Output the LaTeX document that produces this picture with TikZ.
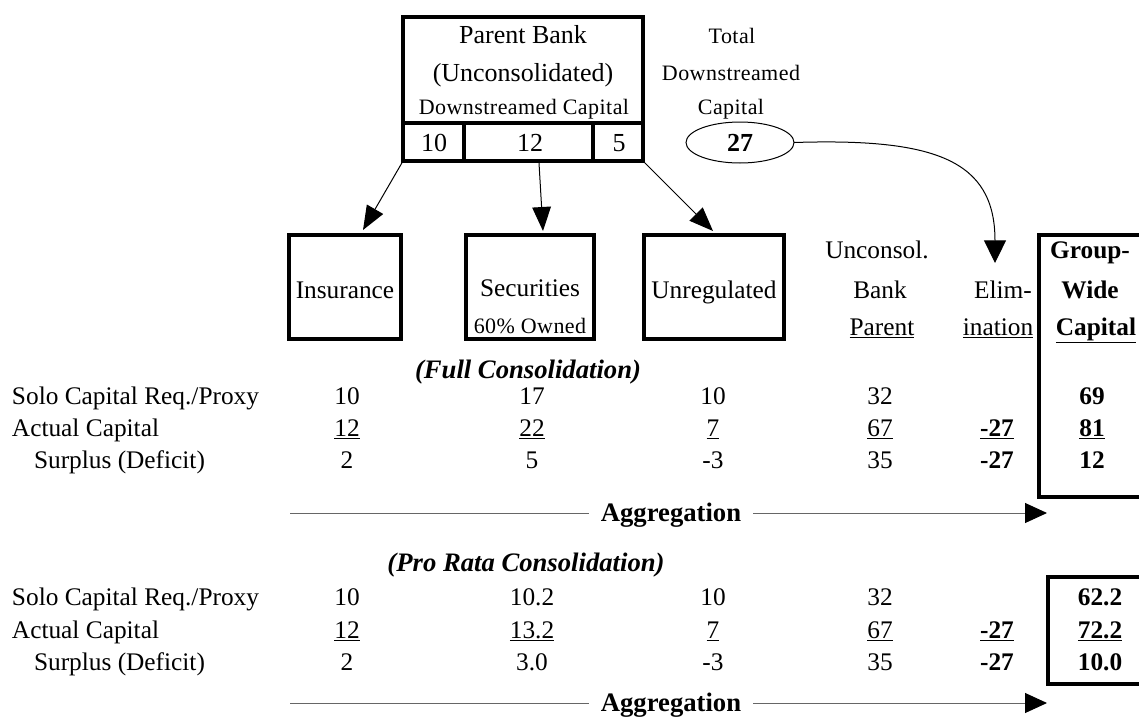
\documentclass[tikz,border=0pt]{standalone}
\usepackage{fontspec}
\setmainfont{Liberation Serif}
\usetikzlibrary{arrows.meta,shapes.geometric}
\newcommand\fsN{\fontsize{19}{23}\selectfont}
\newcommand\fsP{\fontsize{19.5}{23}\selectfont}
\newcommand\fsS{\fontsize{16.5}{19}\selectfont\addfontfeature{LetterSpace=2}}
\newcommand\fsB{\fontsize{20}{24}\selectfont\bfseries}
\newcommand\fsBI{\fontsize{20}{24}\selectfont\bfseries\itshape}
\newcommand\myul[1]{\underline{#1}}
\begin{document}
\begin{tikzpicture}[x=0.75pt,y=-0.75pt,
  every node/.style={inner sep=0pt,outer sep=0pt,font=\fsN},
  thickbox/.style={draw,line width=3pt,rectangle},
  thickline/.style={line width=3pt},
  txt/.style={anchor=base},
  ptxt/.style={anchor=base,font=\fsP},
  stxt/.style={anchor=base,font=\fsS},
  ltxt/.style={anchor=base west},
  bt/.style={anchor=base,font=\fsN\bfseries},
  dn/.style={-{Triangle[length=18pt,width=14pt]},line width=0.75pt},
  aggline/.style={draw=black!60,line width=0.75pt},
  aggtip/.style={aggline,-{Triangle[length=16.5pt,width=15pt,color=black]}},
  agg/.style={anchor=base,font=\fsB,inner xsep=9pt}
]
\useasboundingbox (0,0) rectangle (1139,718);
\fill[white] (0,0) rectangle (1139,718);

% Parent bank box
\node[thickbox,minimum width=180pt,minimum height=108pt] (par) at (523,89) {};
\coordinate (hl) at (523,123);
\coordinate (d1) at (464,123);
\coordinate (d2) at (593,123);
\draw[thickline] (hl -| par.west) -- (hl -| par.east);
\draw[thickline] (d1) -- (d1 |- par.south);
\draw[thickline] (d2) -- (d2 |- par.south);
\node[ptxt] (pb1) at (523,43) {Parent Bank};
\node[ptxt] (pb2) at (523,81) {(Unconsolidated)};
\node[stxt] (pb3) at (524,114) {Downstreamed Capital};
\node[ptxt] (n10) at (434,151) {10};
\node[ptxt] (n12) at (530,151) {12};
\node[ptxt] (n5) at (619,151) {5};

% Total downstreamed capital
\node[stxt] (tt1) at (732,43) {Total};
\node[stxt] (tt2) at (731,80) {Downstreamed};
\node[stxt] (tt3) at (731,114) {Capital};
\node[draw,ellipse,line width=0.75pt,minimum width=81pt,minimum height=30.75pt,font=\fsP\bfseries] (tot) at (740,142.5) {27};

% Subsidiary boxes
\node[thickbox,minimum width=84pt,minimum height=78.4pt] (ins) at (345,287) {};
\node[thickbox,minimum width=96pt,minimum height=78.4pt] (sec) at (530,287) {};
\node[thickbox,minimum width=104.6pt,minimum height=78.4pt] (unr) at (714,287) {};
\node[txt] (inst) at (345,298) {Insurance};
\node[txt] (sect) at (530,296) {Securities};
\node[stxt] (secs) at (530,333) {60\% Owned};
\node[txt] (unrt) at (714,298) {Unregulated};

% Downstream arrows
\coordinate (m2) at (539,163);
\coordinate (t1) at (363,230);
\coordinate (t2) at (543,231);
\coordinate (t3) at (713,231);
\draw[dn] (par.south west) -- (t1);
\draw[dn] (m2) -- (t2);
\draw[dn] (par.south east) -- (t3);

% Elimination arrow
\coordinate (etip) at (995,263);
\draw[line width=0.75pt,-{Triangle[length=17pt,width=16.5pt]}] (tot.east) .. controls (935,138) and (995,160) .. (etip);

% Column headers
\node[txt] (h4a) at (877,258) {Unconsol.};
\node[txt] (h4b) at (880,298) {Bank};
\node[txt] (h4c) at (882,335) {\myul{Parent}};
\node[txt] (h5b) at (1003,298) {Elim-};
\node[txt] (h5c) at (998,335) {\myul{ination}};
\node[bt] (h6a) at (1090,258) {Group-};
\node[bt] (h6b) at (1090,298) {Wide};
\node[bt] (h6c) at (1096,335) {\myul{Capital}};

% Group-wide boxes
\node[thickbox,minimum width=90.4pt,minimum height=196.5pt] (gw1) at (1099.75,366) {};
\node[thickbox,minimum width=84pt,minimum height=80.25pt] (gw2) at (1104,630.5) {};

% Full consolidation
\node[txt,font=\fsBI] (fc) at (528,378) {(Full Consolidation)};
\node[ltxt] (ra1) at (12,404) {Solo Capital Req./Proxy};
\node[ltxt] (ra2) at (12,436) {Actual Capital};
\node[ltxt] (ra3) at (34,468) {Surplus (Deficit)};
\foreach \x/\v/\n in {347/10/a,532/17/b,713/10/c,880/32/d}
  \node[txt] (fa\n) at (\x,404) {\v};
\node[bt] (fae) at (1092,404) {69};
\foreach \x/\v/\n in {347/12/a,532/22/b,713/7/c,880/67/d}
  \node[txt] (fb\n) at (\x,436) {\myul{\v}};
\node[bt] (fbd) at (997,436) {\myul{-27}};
\node[bt] (fbe) at (1092,436) {\myul{81}};
\foreach \x/\v/\n in {347/2/a,532/5/b,713/-3/c,880/35/d}
  \node[txt] (fc\n) at (\x,468) {\v};
\node[bt] (fcd) at (997,468) {-27};
\node[bt] (fce) at (1092,468) {12};

% Aggregation 1
\node[agg] (ag1) at (671,521) {Aggregation};
\coordinate (ag1s) at (290,513);
\coordinate (ag1e) at (1047,513);
\draw[aggline] (ag1s) -- (ag1s -| ag1.west);
\draw[aggtip] (ag1s -| ag1.east) -- (ag1e);

% Pro rata consolidation
\node[txt,font=\fsBI] (pr) at (526,571) {(Pro Rata Consolidation)};
\node[ltxt] (rb1) at (12,605) {Solo Capital Req./Proxy};
\node[ltxt] (rb2) at (12,638) {Actual Capital};
\node[ltxt] (rb3) at (34,670) {Surplus (Deficit)};
\foreach \x/\v/\n in {347/10/a,532/10.2/b,713/10/c,880/32/d}
  \node[txt] (pa\n) at (\x,605) {\v};
\node[bt] (pae) at (1100,605) {62.2};
\foreach \x/\v/\n in {347/12/a,532/13.2/b,713/7/c,880/67/d}
  \node[txt] (pb\n) at (\x,638) {\myul{\v}};
\node[bt] (pbd) at (997,638) {\myul{-27}};
\node[bt] (pbe) at (1100,638) {\myul{72.2}};
\foreach \x/\v/\n in {347/2/a,532/3.0/b,713/-3/c,880/35/d}
  \node[txt] (pc\n) at (\x,670) {\v};
\node[bt] (pcd) at (997,670) {-27};
\node[bt] (pce) at (1100,670) {10.0};

% Aggregation 2
\node[agg] (ag2) at (671,711) {Aggregation};
\coordinate (ag2s) at (290,703);
\coordinate (ag2e) at (1047,703);
\draw[aggline] (ag2s) -- (ag2s -| ag2.west);
\draw[aggtip] (ag2s -| ag2.east) -- (ag2e);
\end{tikzpicture}
\end{document}
